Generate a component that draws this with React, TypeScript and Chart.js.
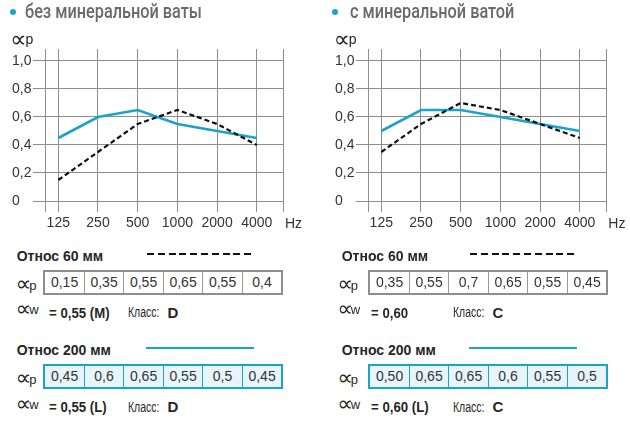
import React, { useEffect, useRef } from 'react';
import { Chart, registerables } from 'chart.js';

Chart.register(...registerables);

// ---------- data ----------
const FREQUENCIES = ['125', '250', '500', '1000', '2000', '4000'];
const Y_TICKS = [0, 0.1, 0.2, 0.3, 0.4, 0.5, 0.6, 0.7, 0.8, 0.9, 1.0];
const Y_TICK_LABELS = ['0', '', '0,2', '', '0,4', '', '0,6', '', '0,8', '', '1,0'];

const NO_WOOL_60 = [0.15, 0.35, 0.55, 0.65, 0.55, 0.4];
const NO_WOOL_200 = [0.45, 0.6, 0.65, 0.55, 0.5, 0.45];
const WOOL_60 = [0.35, 0.55, 0.7, 0.65, 0.55, 0.45];
const WOOL_200 = [0.5, 0.65, 0.65, 0.6, 0.55, 0.5];

const NO_WOOL_60_TEXT = ['0,15', '0,35', '0,55', '0,65', '0,55', '0,4'];
const NO_WOOL_200_TEXT = ['0,45', '0,6', '0,65', '0,55', '0,5', '0,45'];
const WOOL_60_TEXT = ['0,35', '0,55', '0,7', '0,65', '0,55', '0,45'];
const WOOL_200_TEXT = ['0,50', '0,65', '0,65', '0,6', '0,55', '0,5'];

const TITLES = ['без минеральной ваты', 'с минеральной ватой'];
const ROW_TITLES = ['Относ 60 мм', 'Относ 200 мм'];
const AW_VALUES = [['= 0,55 (M)', '= 0,55 (L)'], ['= 0,60', '= 0,60 (L)']];
const CLASSES = [['D', 'D'], ['C', 'C']];

// ---------- style ----------
const BLUE = '#1ba3c9';
const GRID = '#8e8e8e';
const DARK = '#262626';
const SANS = '"Liberation Sans", Arial, sans-serif';

const XMIN = -0.335;
const XMAX = 5.66;
const YMAX = 1.0857;

function AbsorptionChart({ left, solid, dashed }: { left: number; solid: number[]; dashed: number[] }) {
  const ref = useRef<HTMLCanvasElement>(null);
  useEffect(() => {
    const chart = new Chart(ref.current as HTMLCanvasElement, {
      type: 'line',
      data: {
        datasets: [
          {
            data: solid.map((v, i) => ({ x: i, y: v })),
            borderColor: BLUE,
            borderWidth: 2.6,
            pointRadius: 0,
            tension: 0,
            order: 2,
          },
          {
            data: dashed.map((v, i) => ({ x: i, y: v })),
            borderColor: '#111111',
            borderWidth: 2.2,
            borderDash: [5, 3],
            pointRadius: 0,
            tension: 0,
            order: 1,
          },
        ],
      },
      options: {
        animation: false,
        responsive: false,
        maintainAspectRatio: false,
        devicePixelRatio: 1,
        layout: { padding: { left: 12, top: 49, right: 27, bottom: 0 } },
        plugins: { legend: { display: false }, tooltip: { enabled: false } },
        scales: {
          x: {
            type: 'linear',
            min: XMIN,
            max: XMAX,
            afterBuildTicks: (s: any) => {
              s.ticks = [XMIN, 0, 1, 2, 3, 4, 5, XMAX].map((v) => ({ value: v }));
            },
            afterFit: (s: any) => {
              s.height = 34;
            },
            grid: { color: GRID, lineWidth: 1, tickLength: 11, tickColor: GRID },
            border: { display: false },
            ticks: {
              autoSkip: false,
              maxRotation: 0,
              padding: 3,
              color: '#333',
              font: { family: SANS, size: 14 },
              callback: (v: any) => (Number.isInteger(v) ? FREQUENCIES[v] : ''),
            },
          },
          y: {
            type: 'linear',
            min: 0,
            max: YMAX,
            afterBuildTicks: (s: any) => {
              s.ticks = [...Y_TICKS, YMAX].map((v) => ({ value: v }));
            },
            afterFit: (s: any) => {
              s.width = 33;
            },
            grid: {
              color: GRID,
              lineWidth: 1,
              tickLength: 12,
              tickColor: (ctx: any) => (ctx.tick && ctx.tick.value > 1.01 ? 'rgba(0,0,0,0)' : GRID),
            },
            border: { display: false },
            ticks: {
              crossAlign: 'far',
              padding: 4,
              color: '#333',
              font: { family: SANS, size: 14 },
              callback: (v: any) => {
                if (v > 1.01) return '';
                return Y_TICK_LABELS[Math.round(v * 10)];
              },
            },
          },
        },
      } as any,
    });
    return () => chart.destroy();
  }, []);
  return (
    <canvas
      ref={ref}
      width={310}
      height={235}
      style={{ position: 'absolute', left, top: 0, width: 310, height: 235 }}
    />
  );
}

function T({ x, y, size = 14, weight = 400, color = DARK, family = SANS, sx = 1, children }: any) {
  const lh = Math.round(size * 1.25);
  return (
    <div
      style={{
        position: 'absolute',
        left: x,
        top: y - lh / 2,
        fontSize: size,
        lineHeight: `${lh}px`,
        fontWeight: weight,
        color,
        fontFamily: family,
        whiteSpace: 'nowrap',
        transform: sx === 1 ? undefined : `scaleX(${sx})`,
        transformOrigin: 'left center',
      }}
    >
      {children}
    </div>
  );
}

// "∝" followed by a subscript; x = left edge of the ∝ glyph, base = baseline of the subscript,
// lift = how far the bottom of ∝ sits above that baseline
function Alpha({ x, base, sub, size = 22, subSize = 13, lift = 2.3, gap = 12.5 }: any) {
  const top = base - lift - 0.66 * size;
  return (
    <>
      <div
        style={{
          position: 'absolute',
          left: x - 0.04 * size,
          top,
          fontFamily: '"DejaVu Sans", sans-serif',
          fontSize: size,
          lineHeight: `${size}px`,
          color: DARK,
          whiteSpace: 'nowrap',
        }}
      >
        ∝
      </div>
      <div
        style={{
          position: 'absolute',
          left: x + gap,
          top: base - 0.8465 * subSize,
          fontFamily: SANS,
          fontSize: subSize,
          lineHeight: `${subSize}px`,
          color: DARK,
          whiteSpace: 'nowrap',
        }}
      >
        {sub}
      </div>
    </>
  );
}

function ValueTable({ x, y, values, blue }: { x: number; y: number; values: string[]; blue: boolean }) {
  return (
    <div
      style={{
        position: 'absolute',
        left: x,
        top: y,
        width: 240,
        height: 25,
        boxSizing: 'border-box',
        border: `2px solid ${blue ? BLUE : GRID}`,
        background: blue ? '#e7f5fa' : '#ffffff',
        display: 'flex',
      }}
    >
      {values.map((v, i) => (
        <div
          key={i}
          style={{
            flex: 1,
            borderLeft: i === 0 ? 'none' : `1px solid ${blue ? BLUE : '#999'}`,
            textAlign: 'center',
            fontFamily: SANS,
            fontSize: 14,
            lineHeight: '21px',
            color: '#333',
          }}
        >
          {v}
        </div>
      ))}
    </div>
  );
}

function Section({ idx, ox, tx, ax, dotX, solid, dashed, t60, t200 }: any) {
  return (
    <>
      <AbsorptionChart left={ox} solid={solid} dashed={dashed} />
      {/* title */}
      <div
        style={{
          position: 'absolute',
          left: dotX - 3,
          top: 8.7,
          width: 6,
          height: 6,
          borderRadius: 3,
          background: BLUE,
        }}
      />
      <T x={tx + 25} y={11.2} size={21} weight={500} color="#6a6a6a" family='Roboto, "Noto Sans", sans-serif' sx={0.775}>
        {TITLES[idx]}
      </T>
      {/* axis title */}
      <Alpha x={ox + 11} base={44} sub="p" size={23} subSize={14} lift={1} gap={14.5} />
      <T x={ox + 285} y={223} size={14} color="#333">
        Hz
      </T>

      {/* 60 mm */}
      <T x={tx + 16.7} y={256} size={14} weight={700}>
        {ROW_TITLES[0]}
      </T>
      <div
        style={{
          position: 'absolute',
          left: ox + 146.7,
          top: 253.3,
          width: 107,
          height: 2,
          background: 'repeating-linear-gradient(to right, #111 0px, #111 7px, transparent 7px, transparent 10.8px)',
        }}
      />
      <Alpha x={ax + 16.7} base={290} sub="p" />
      <ValueTable x={tx + 43.3} y={270} values={t60} blue={false} />
      <Alpha x={ax + 16.7} base={314.5} sub="w" lift={1.8} />
      <T x={ax + 49} y={312} size={15} weight={700} sx={0.88}>
        {AW_VALUES[idx][0]}
      </T>
      <T x={tx + 127.7} y={312} size={14} sx={0.75}>
        Класс:
      </T>
      <T x={tx + 167.5} y={312} size={15} weight={700}>
        {CLASSES[idx][0]}
      </T>

      {/* 200 mm */}
      <T x={tx + 16.7} y={350} size={14} weight={700}>
        {ROW_TITLES[1]}
      </T>
      <div
        style={{
          position: 'absolute',
          left: ox + 145.7,
          top: 347.3,
          width: 108,
          height: 2,
          background: BLUE,
        }}
      />
      <Alpha x={ax + 16.7} base={384} sub="p" />
      <ValueTable x={tx + 43.3} y={364} values={t200} blue={true} />
      <Alpha x={ax + 16.7} base={409} sub="w" lift={1.8} />
      <T x={ax + 49} y={406.5} size={15} weight={700} sx={0.88}>
        {AW_VALUES[idx][1]}
      </T>
      <T x={tx + 127.7} y={406.5} size={14} sx={0.75}>
        Класс:
      </T>
      <T x={tx + 167.5} y={406.5} size={15} weight={700}>
        {CLASSES[idx][1]}
      </T>
    </>
  );
}

export default function App() {
  return (
    <div
      style={{
        position: 'absolute',
        left: 0,
        top: 0,
        width: 630,
        height: 422,
        overflow: 'hidden',
        background: '#fff',
      }}
    >
      <Section idx={0} ox={0} tx={0} ax={0} dotX={12.7} solid={NO_WOOL_200} dashed={NO_WOOL_60} t60={NO_WOOL_60_TEXT} t200={NO_WOOL_200_TEXT} />
      <Section idx={1} ox={323.3} tx={325} ax={321.6} dotX={335} solid={WOOL_200} dashed={WOOL_60} t60={WOOL_60_TEXT} t200={WOOL_200_TEXT} />
    </div>
  );
}
